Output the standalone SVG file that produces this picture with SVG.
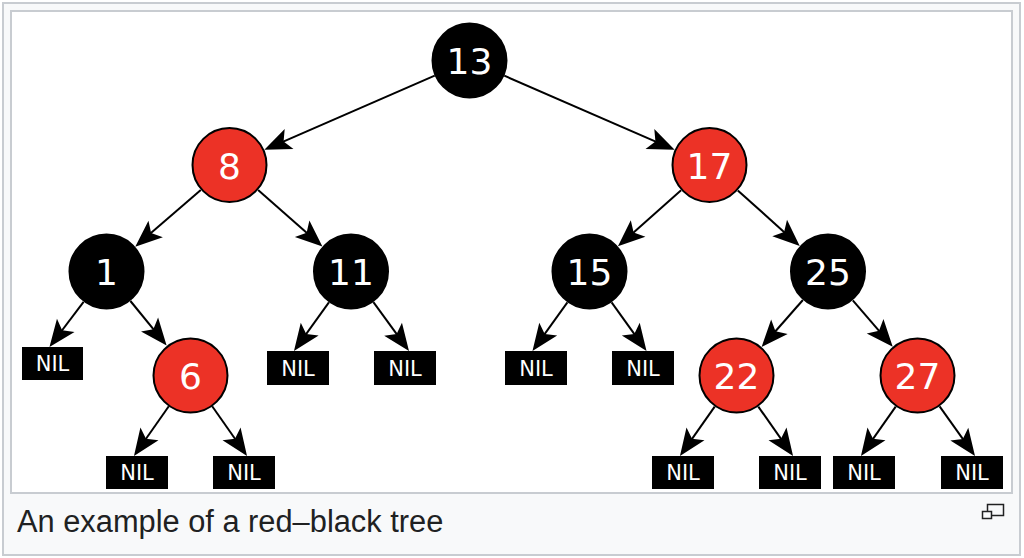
<svg xmlns="http://www.w3.org/2000/svg" width="1024" height="558" viewBox="0 0 1024 558">
  <style>
    .frame { fill: #f8f9fa; stroke: #c8ccd1; stroke-width: 2; }
    .panel { fill: #ffffff; stroke: #c8ccd1; stroke-width: 2; }
    .black { fill: #000000; stroke: #000000; stroke-width: 2; }
    .red { fill: #ec3226; stroke: #000000; stroke-width: 2; }
    .nil { fill: #000000; }
    .key { font-family: "DejaVu Sans", sans-serif; font-size: 36px; fill: #ffffff; text-anchor: middle; }
    .niltext { font-family: "DejaVu Sans", sans-serif; font-size: 21px; fill: #ffffff; text-anchor: middle; }
    .edge { stroke: #000000; stroke-width: 2; fill: none; marker-end: url(#arrow); }
    .caption { font-family: "Liberation Sans", Arial, sans-serif; font-size: 30.8px; fill: #202122; }
    .icon { fill: #f8f9fa; stroke: #202122; stroke-width: 1.5; }
  </style>
  <defs>
    <marker id="arrow" markerUnits="userSpaceOnUse" viewBox="-18 -12 29 24" markerWidth="29" markerHeight="24" refX="0" refY="0" orient="auto">
      <path d="M10,0 L-17,-11 L-11,0 L-17,11 Z" fill="#000000"/>
    </marker>
  </defs>

  <!-- figure frame -->
  <rect class="frame" x="3" y="3" width="1017" height="552"/>
  <rect class="panel" x="11" y="11" width="1001" height="482"/>

  <!-- connectors -->
  <g id="edges">
    <line class="edge" x1="434.7" y1="75.7" x2="273.5" y2="145.8"/>
    <line class="edge" x1="504.3" y1="75.7" x2="665.5" y2="145.8"/>
    <line class="edge" x1="200.8" y1="189.9" x2="142.8" y2="240.1"/>
    <line class="edge" x1="258.1" y1="190.0" x2="314.9" y2="239.9"/>
    <line class="edge" x1="681.1" y1="190.2" x2="625.4" y2="239.7"/>
    <line class="edge" x1="737.8" y1="190.4" x2="792.3" y2="239.4"/>
    <line class="edge" x1="83.6" y1="301.8" x2="55.5" y2="339.0"/>
    <line class="edge" x1="130.4" y1="301.0" x2="160.3" y2="337.7"/>
    <line class="edge" x1="328.9" y1="302.4" x2="299.8" y2="342.9"/>
    <line class="edge" x1="373.4" y1="302.2" x2="403.1" y2="342.9"/>
    <line class="edge" x1="567.4" y1="302.4" x2="538.3" y2="342.9"/>
    <line class="edge" x1="611.6" y1="302.4" x2="640.7" y2="342.9"/>
    <line class="edge" x1="802.9" y1="300.0" x2="768.2" y2="339.5"/>
    <line class="edge" x1="852.8" y1="300.3" x2="886.2" y2="339.1"/>
    <line class="edge" x1="168.8" y1="406.2" x2="139.7" y2="447.8"/>
    <line class="edge" x1="212.2" y1="406.2" x2="241.3" y2="447.8"/>
    <line class="edge" x1="714.7" y1="406.6" x2="685.7" y2="447.8"/>
    <line class="edge" x1="758.3" y1="406.6" x2="787.3" y2="447.8"/>
    <line class="edge" x1="895.7" y1="406.6" x2="866.7" y2="447.8"/>
    <line class="edge" x1="939.6" y1="406.4" x2="969.2" y2="447.9"/>
  </g>

  <!-- tree nodes -->
  <g id="n13"><circle class="black" cx="469.5" cy="60.5" r="37"/><text class="key" x="469.5" y="74">13</text></g>
  <g id="n8"><circle class="red" cx="229.5" cy="165" r="37"/><text class="key" x="229.5" y="178.5">8</text></g>
  <g id="n17"><circle class="red" cx="709.5" cy="165" r="37"/><text class="key" x="709.5" y="178.5">17</text></g>
  <g id="n1"><circle class="black" cx="106.5" cy="271.5" r="37"/><text class="key" x="106.5" y="285">1</text></g>
  <g id="n11"><circle class="black" cx="351" cy="271.5" r="37"/><text class="key" x="351" y="285">11</text></g>
  <g id="n15"><circle class="black" cx="589.5" cy="271.5" r="37"/><text class="key" x="589.5" y="285">15</text></g>
  <g id="n25"><circle class="black" cx="828" cy="271.5" r="37"/><text class="key" x="828" y="285">25</text></g>
  <g id="n6"><circle class="red" cx="190.5" cy="375.5" r="37"/><text class="key" x="190.5" y="389">6</text></g>
  <g id="n22"><circle class="red" cx="736.5" cy="375.5" r="37"/><text class="key" x="736.5" y="389">22</text></g>
  <g id="n27"><circle class="red" cx="917.5" cy="375.5" r="37"/><text class="key" x="917.5" y="389">27</text></g>

  <!-- leaf sentinels -->
  <g id="nil1L"><rect class="nil" x="22" y="347" width="61" height="33"/><text class="niltext" x="52.5" y="371">NIL</text></g>
  <g id="nil11L"><rect class="nil" x="267" y="351" width="62" height="34"/><text class="niltext" x="298" y="375.5">NIL</text></g>
  <g id="nil11R"><rect class="nil" x="374" y="351" width="62" height="34"/><text class="niltext" x="405" y="375.5">NIL</text></g>
  <g id="nil15L"><rect class="nil" x="505" y="351" width="62" height="34"/><text class="niltext" x="536" y="375.5">NIL</text></g>
  <g id="nil15R"><rect class="nil" x="612" y="351" width="62" height="34"/><text class="niltext" x="643" y="375.5">NIL</text></g>
  <g id="nil6L"><rect class="nil" x="106" y="456" width="62" height="33"/><text class="niltext" x="137" y="480">NIL</text></g>
  <g id="nil6R"><rect class="nil" x="213" y="456" width="62" height="33"/><text class="niltext" x="244" y="480">NIL</text></g>
  <g id="nil22L"><rect class="nil" x="652" y="456" width="62" height="33"/><text class="niltext" x="683" y="480">NIL</text></g>
  <g id="nil22R"><rect class="nil" x="759" y="456" width="62" height="33"/><text class="niltext" x="790" y="480">NIL</text></g>
  <g id="nil27L"><rect class="nil" x="833" y="456" width="62" height="33"/><text class="niltext" x="864" y="480">NIL</text></g>
  <g id="nil27R"><rect class="nil" x="941" y="456" width="62" height="33"/><text class="niltext" x="972" y="480">NIL</text></g>

  <!-- caption and enlarge icon -->
  <text class="caption" x="17" y="532">An example of a red–black tree</text>
  <g id="enlarge">
    <rect class="icon" x="987.5" y="504.5" width="16" height="11"/>
    <rect class="icon" x="982.5" y="511.5" width="9" height="7"/>
  </g>
</svg>
